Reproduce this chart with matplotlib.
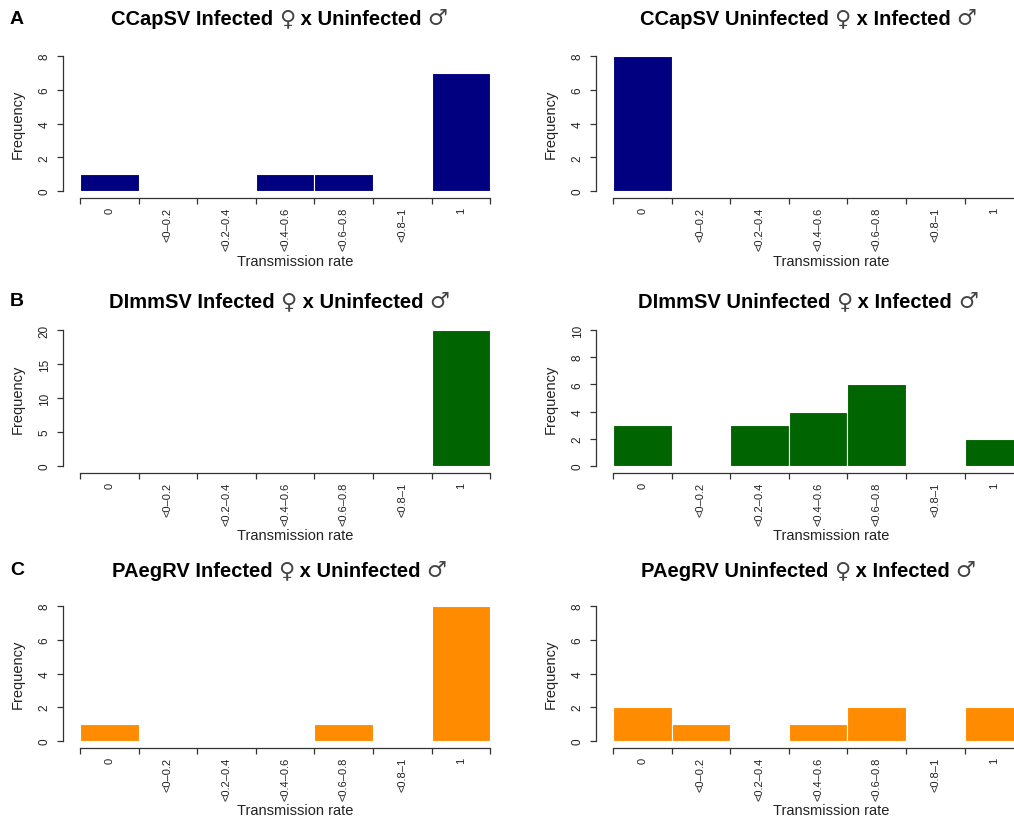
import matplotlib
matplotlib.use("Agg")
import matplotlib.pyplot as plt
from matplotlib.offsetbox import TextArea, HPacker, AnchoredOffsetbox
import numpy as np

plt.rcParams['font.family'] = ['Liberation Sans', 'DejaVu Sans']

categories = ["0", "<0\u20130.2", "<0.2\u20130.4", "<0.4\u20130.6", "<0.6\u20130.8", "<0.8\u20131", "1"]

ccap_inf_female = [1, 0, 0, 1, 1, 0, 7]
ccap_inf_male = [8, 0, 0, 0, 0, 0, 0]
dimm_inf_female = [0, 0, 0, 0, 0, 0, 20]
dimm_inf_male = [3, 0, 3, 4, 6, 0, 2]
paeg_inf_female = [1, 0, 0, 0, 1, 0, 8]
paeg_inf_male = [2, 1, 0, 1, 2, 0, 2]

viruses = ["CCapSV", "CCapSV", "DImmSV", "DImmSV", "PAegRV", "PAegRV"]
female_status = ["Infected", "Uninfected"]
male_status = ["Uninfected", "Infected"]
FEMALE = "\u2640"
MALE = "\u2642"

series = [ccap_inf_female, ccap_inf_male, dimm_inf_female, dimm_inf_male,
          paeg_inf_female, paeg_inf_male]
yticks_list = [
    [0, 2, 4, 6, 8], [0, 2, 4, 6, 8],
    [0, 5, 10, 15, 20], [0, 2, 4, 6, 8, 10],
    [0, 2, 4, 6, 8], [0, 2, 4, 6, 8],
]
colors = ["#000080", "#000080", "#006400", "#006400", "#FF8C00", "#FF8C00"]
letters = ["A", "B", "C"]

W, H = 1014, 820
fig = plt.figure(figsize=(W / 100, H / 100), dpi=100)

col_left = [80, 613]
bar_w = 58.6
row_top = [57, 331, 607]
row_bot = [192, 467, 742]
title_x = [279, 808]
title_y = [19, 302, 571]
xlabel_y = [262, 536, 811]
xlabel_x = [295, 831]

bold = dict(fontsize=14.5, fontweight="bold", family=["Liberation Sans"])
sym = dict(fontsize=16, fontweight="normal", family=["DejaVu Sans"], color="#444444")

for i in range(6):
    r, c = divmod(i, 2)
    l = col_left[c]
    w = bar_w * 7
    t, b = row_top[r], row_bot[r]
    ax = fig.add_axes([l / W, 1 - b / H, w / W, (b - t) / H])
    vals = series[i]
    yt = yticks_list[i]
    x = np.arange(len(categories))
    ax.bar(x + 0.5, vals, width=1.0, color=colors[i], edgecolor="white", linewidth=0.8)
    ax.set_xlim(0, 7)
    ax.set_ylim(0, yt[-1])
    for s in ["top", "right"]:
        ax.spines[s].set_visible(False)
    ax.spines["left"].set_position(("outward", 12.2))
    ax.spines["bottom"].set_position(("outward", 5))
    ax.spines["left"].set_bounds(0, yt[-1])
    ax.spines["bottom"].set_bounds(0, 7)
    for s in ["left", "bottom"]:
        ax.spines[s].set_color("#333333")
        ax.spines[s].set_linewidth(0.9)
    ax.set_yticks(yt)
    ax.set_yticklabels([str(v) for v in yt], rotation=90, va="center")
    ax.tick_params(axis="y", length=4.3, width=0.9, color="#333333", pad=4.5,
                   labelsize=8.5, labelcolor="#222222")
    ax.set_xticks(np.arange(8))
    ax.set_xticklabels([])
    ax.set_xticks(x + 0.5, minor=True)
    ax.set_xticklabels(categories, minor=True, rotation=90, va="top", ha="center")
    ax.tick_params(axis="x", which="major", length=4.3, width=0.9, color="#333333")
    ax.tick_params(axis="x", which="minor", length=0, pad=6.5, labelsize=8,
                   labelcolor="#222222")

    parts = [
        TextArea(f"{viruses[i]} {female_status[c]} ", textprops=bold),
        TextArea(FEMALE, textprops=sym),
        TextArea(f" x {male_status[c]} ", textprops=bold),
        TextArea(MALE, textprops=sym),
    ]
    box = HPacker(children=parts, align="baseline", pad=0, sep=0)
    anchored = AnchoredOffsetbox(loc="center", child=box, pad=0, borderpad=0,
                                 frameon=False,
                                 bbox_to_anchor=(title_x[c] / W, 1 - title_y[r] / H),
                                 bbox_transform=fig.transFigure)
    fig.add_artist(anchored)

    fig.text(xlabel_x[c] / W, 1 - xlabel_y[r] / H, "Transmission rate",
             ha="center", va="center", fontsize=10.5, color="#222222")
    fig.text((l - 62) / W, 1 - ((t + b) / 2) / H, "Frequency", rotation=90,
             ha="center", va="center", fontsize=10.5, color="#222222")

for r in range(3):
    fig.text(17 / W, 1 - title_y[r] / H, letters[r], ha="center", va="center",
             fontsize=14, fontweight="bold")

fig.savefig("out.png", dpi=100)
